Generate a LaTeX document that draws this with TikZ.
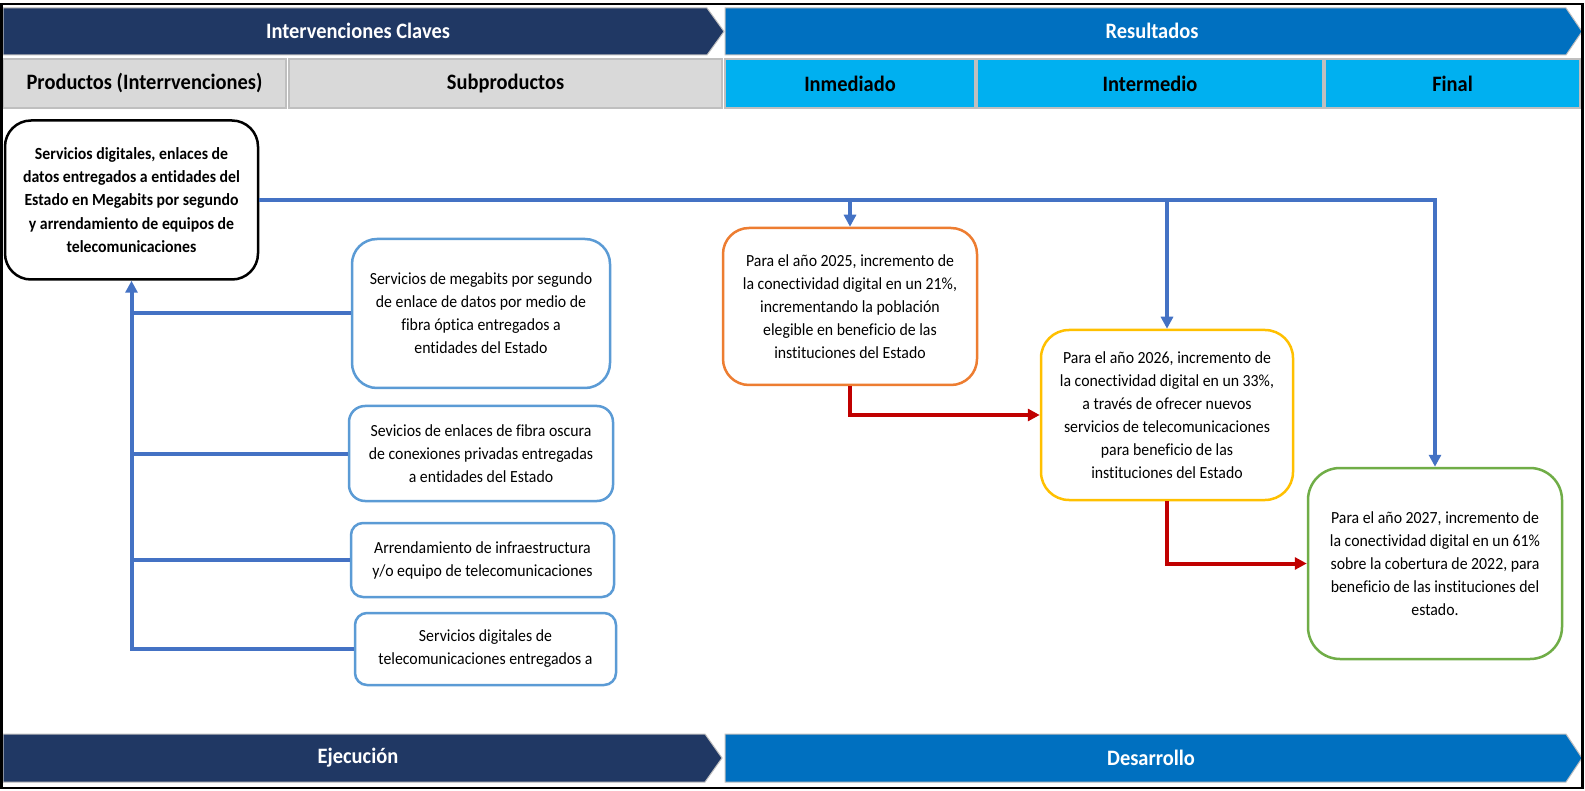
\documentclass[tikz,border=0pt]{standalone}
\usepackage{fontspec}
\setmainfont{Carlito}[FakeStretch=0.93, Ligatures=NoCommon]
\usetikzlibrary{arrows.meta}
\pgfdeclarelayer{bg}
\pgfsetlayers{bg,main}
\definecolor{navy}{HTML}{203864}
\definecolor{resblue}{HTML}{0070C0}
\definecolor{cyanhdr}{HTML}{00B0F0}
\definecolor{lgray}{HTML}{D9D9D9}
\definecolor{mgray}{HTML}{BFBFBF}
\definecolor{connblue}{HTML}{4472C4}
\definecolor{subblue}{HTML}{5B9BD5}
\definecolor{darkred}{HTML}{C00000}
\definecolor{orangeb}{HTML}{ED7D31}
\definecolor{yellowb}{HTML}{FFC000}
\definecolor{greenb}{HTML}{70AD47}
\tikzset{
  bodytxt/.style={font=\fontsize{17}{23}\selectfont, align=center, inner sep=0pt},
  hdrfont/.style={font=\fontsize{22}{26}\selectfont\bfseries},
  graybox/.style={hdrfont, fill=lgray, draw=mgray, line width=1.2, minimum height=49, inner sep=0pt},
  cyanbox/.style={hdrfont, fill=cyanhdr, draw=mgray, line width=1.2, minimum height=49, inner sep=0pt},
  chevtxt/.style={hdrfont, text=white, inner sep=0pt},
  chevshape/.style={draw=mgray, line width=1},
  prodbox/.style={bodytxt, font=\fontsize{17}{23.3}\selectfont\bfseries, draw=black, fill=white, line width=2.5, rounded corners=26pt},
  subbox/.style={bodytxt, draw=subblue, fill=white, line width=2.5},
  resbox/.style={bodytxt, fill=white, line width=2.5},
  conn/.style={draw=connblue, line width=4},
  rconn/.style={draw=darkred, line width=4},
  tip/.style={-{Triangle[length=12pt,width=12pt]}},
}
\begin{document}
\begin{tikzpicture}[x=1pt,y=-1pt]
\useasboundingbox (0,0) rectangle (1585,791);
\fill[white] (0,0) rectangle (1585,791);

% top chevrons
\draw[chevshape, fill=navy] (3,8) -- (707,8) -- (724,31.5) -- (707,55) -- (3,55) -- cycle;
\draw[chevshape, fill=resblue] (725,8) -- (1566,8) -- (1582,31.5) -- (1566,55) -- (725,55) -- cycle;
\node[chevtxt] (ic) at (358,30.5) {Intervenciones Claves};
\node[chevtxt] (rs) at (1152,30.5) {Resultados};

% header row
\node[graybox, minimum width=283] (hp) at (144.5,83.5) {Productos (Interrvenciones)};
\node[graybox, minimum width=433] (hs) at (505.5,83.5) {Subproductos};
\node[cyanbox, minimum width=250] (hi) at (850,83.5) {Inmediado};
\node[cyanbox, minimum width=346] (hm) at (1150,83.5) {Intermedio};
\node[cyanbox, minimum width=255] (hf) at (1452.5,83.5) {Final};

% bottom chevrons
\draw[chevshape, fill=navy] (3,734) -- (705,734) -- (722,758) -- (705,782) -- (3,782) -- cycle;
\draw[chevshape, fill=resblue] (725,734) -- (1566,734) -- (1582,758) -- (1566,782) -- (725,782) -- cycle;
\node[chevtxt] (ej) at (358,758) {Ejecución};
\node[chevtxt] (de) at (1151,758) {Desarrollo};

% product box
\node[prodbox, minimum width=253, minimum height=159] (P) at (131.5,200)
  {Servicios digitales, enlaces de\\datos entregados a entidades del\\Estado en Megabits por segundo\\y arrendamiento de equipos de\\telecomunicaciones};

% sub-products
\node[subbox, minimum width=258, minimum height=149, rounded corners=25pt] (S1) at (481,313.5)
  {Servicios de megabits por segundo\\de enlace de datos por medio de\\fibra óptica entregados a\\entidades del Estado};
\node[subbox, minimum width=264, minimum height=95, rounded corners=16pt] (S2) at (481,453.5)
  {Sevicios de enlaces de fibra oscura\\de conexiones privadas entregadas\\a entidades del Estado};
\node[subbox, minimum width=263, minimum height=74, rounded corners=12pt] (S3) at (482.5,560)
  {Arrendamiento de infraestructura\\y/o equipo de telecomunicaciones};
\node[subbox, minimum width=261, minimum height=72, rounded corners=12pt] (S4) at (485.5,649)
  {Servicios digitales de\\telecomunicaciones entregados a};

% results
\node[resbox, draw=orangeb, minimum width=254, minimum height=157, rounded corners=26pt] (O) at (850,306.5)
  {Para el año 2025,  incremento de\\la conectividad digital en un 21\%,\\incrementando la población\\elegible en beneficio de las\\instituciones del Estado};
\node[resbox, draw=yellowb, minimum width=252, minimum height=170, rounded corners=28pt] (Y) at (1167,415)
  {Para el año 2026,  incremento de\\la conectividad digital en un 33\%,\\a través de ofrecer nuevos\\servicios de telecomunicaciones\\para beneficio de las\\instituciones del Estado};
\node[resbox, draw=greenb, minimum width=254, minimum height=191, rounded corners=32pt] (G) at (1435,563.5)
  {Para el año 2027,  incremento de\\la conectividad digital en un 61\%\\sobre la cobertura de 2022,  para\\beneficio  de las instituciones del\\estado.};

% connectors
\coordinate (Ltip) at (1,200);
\begin{pgfonlayer}{bg}
\draw[conn, {Triangle[length=12pt,width=12pt]}-] (Ltip) -- (P.east);
\end{pgfonlayer}
\draw[conn, tip] (P.east) -| (G.north);
\draw[conn, tip] (P.east) -| (O.north);
\draw[conn, tip] (P.east) -| (Y.north);

\draw[conn, tip] (S4.west) -| (P.south);
\draw[conn] (S1.west) -- (S1.west -| P.south);
\draw[conn] (S2.west) -- (S2.west -| P.south);
\draw[conn] (S3.west) -- (S3.west -| P.south);

\draw[rconn, tip] (O.south) |- (Y.west);
\draw[rconn, tip] (Y.south) |- (G.west);

% outer frame
\draw[line width=2.5, black] (1.5,4) rectangle (1582.5,788);
\end{tikzpicture}
\end{document}
